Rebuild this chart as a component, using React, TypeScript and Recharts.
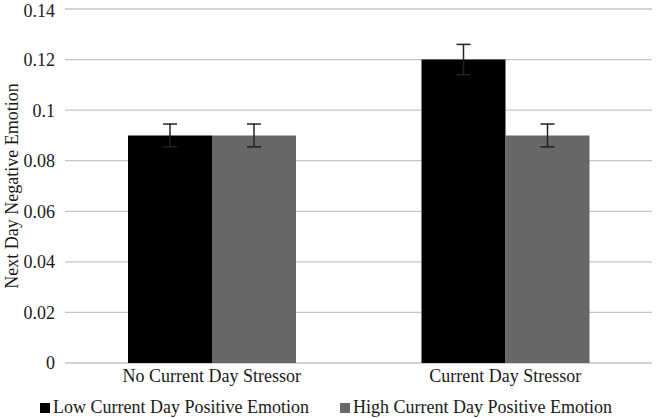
import { BarChart, Bar, XAxis, YAxis, CartesianGrid, Legend, ErrorBar, Label } from 'recharts';

const categories = ['No Current Day Stressor', 'Current Day Stressor'];
const lowPositive = [0.09, 0.12];
const lowPositiveErr = [0.0045, 0.006];
const highPositive = [0.09, 0.09];
const highPositiveErr = [0.0045, 0.0045];
const yTicks = [0, 0.02, 0.04, 0.06, 0.08, 0.1, 0.12, 0.14];
const yTickLabels = ['0', '0.02', '0.04', '0.06', '0.08', '0.1', '0.12', '0.14'];

const seriesNames = ['Low Current Day Positive Emotion', 'High Current Day Positive Emotion'];
const seriesColors = ['#000000', '#676767'];

const data = categories.map((name, i) => ({
  name,
  low: lowPositive[i],
  lowErr: lowPositiveErr[i],
  high: highPositive[i],
  highErr: highPositiveErr[i],
}));

const FONT = '"Liberation Serif", "Times New Roman", serif';
const TEXT = '#1a1a1a';
const FS = 18;

function YTitle({ viewBox }: any) {
  const cy = viewBox.y + viewBox.height / 2;
  const cx = 12;
  return (
    <text
      x={cx}
      y={cy}
      transform={`rotate(-90, ${cx}, ${cy})`}
      textAnchor="middle"
      dominantBaseline="central"
      fontFamily={FONT}
      fontSize={FS}
      fill={TEXT}
    >
      Next Day Negative Emotion
    </text>
  );
}

function ChartLegend() {
  return (
    <div
      style={{
        display: 'flex',
        justifyContent: 'center',
        alignItems: 'center',
        fontFamily: FONT,
        fontSize: FS,
        color: TEXT,
        paddingTop: 2,
        lineHeight: '25px',
      }}
    >
      {seriesNames.map((label, i) => (
        <div key={label} style={{ display: 'flex', alignItems: 'center', marginRight: i === 0 ? 31 : 0 }}>
          <span style={{ width: 10, height: 10, background: seriesColors[i], marginRight: 3, display: 'inline-block' }} />
          <span>{label}</span>
        </div>
      ))}
    </div>
  );
}

export default function App() {
  return (
    <div style={{ position: 'absolute', left: 0, top: 0, background: '#fff', fontFamily: FONT }}>
      <BarChart
        width={657}
        height={418}
        data={data}
        margin={{ top: 9, right: 5, left: 0, bottom: 0 }}
        barGap={0}
        barSize={84}
        style={{ fontFamily: FONT }}
      >
        <CartesianGrid vertical={false} stroke="#c4c4c4" strokeWidth={1.3} />
        <XAxis
          dataKey="name"
          axisLine={false}
          tickLine={false}
          tickSize={0}
          tickMargin={6}
          height={30}
          tick={{ fontFamily: FONT, fontSize: FS, fill: TEXT }}
        />
        <YAxis
          domain={[0, 0.14]}
          ticks={yTicks}
          tickFormatter={(v: number) => yTickLabels[yTicks.indexOf(v)] ?? String(v)}
          axisLine={false}
          tickLine={false}
          tickSize={0}
          tickMargin={10}
          width={65}
          tick={{ fontFamily: FONT, fontSize: FS, fill: TEXT }}
        >
          <Label content={<YTitle />} />
        </YAxis>
        <Legend verticalAlign="bottom" height={25} content={<ChartLegend />} />
        <Bar dataKey="low" name={seriesNames[0]} fill={seriesColors[0]} isAnimationActive={false}>
          <ErrorBar dataKey="lowErr" width={7} stroke="#222" strokeWidth={1.5} />
        </Bar>
        <Bar dataKey="high" name={seriesNames[1]} fill={seriesColors[1]} isAnimationActive={false}>
          <ErrorBar dataKey="highErr" width={7} stroke="#222" strokeWidth={1.5} />
        </Bar>
      </BarChart>
    </div>
  );
}
